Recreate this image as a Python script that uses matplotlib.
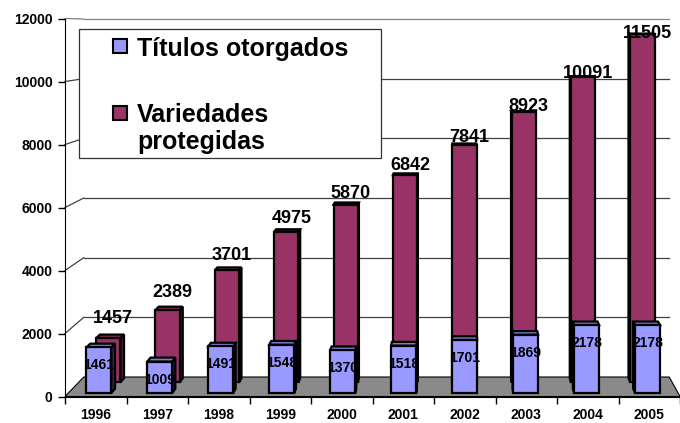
import matplotlib
matplotlib.use("Agg")
import matplotlib.pyplot as plt
from matplotlib.patches import Polygon, Rectangle

# ---------------- data ----------------
years = ["1996", "1997", "1998", "1999", "2000", "2001", "2002", "2003", "2004", "2005"]
titulos = [1461, 1009, 1491, 1548, 1370, 1518, 1701, 1869, 2178, 2178]
variedades = [1457, 2389, 3701, 4975, 5870, 6842, 7841, 8923, 10091, 11505]
y_ticks = [0, 2000, 4000, 6000, 8000, 10000, 12000]
series_names = ["Títulos otorgados", "Variedades\nprotegidas"]

# ---------------- style ----------------
FONT = ["Liberation Sans", "DejaVu Sans"]
plt.rcParams["font.family"] = FONT
plt.rcParams["font.weight"] = "bold"

BLUE, BLUE_SIDE, BLUE_TOP = "#9999FF", "#2e2e5c", "#7c7cd6"
PURP, PURP_SIDE, PURP_TOP = "#993366", "#4a1730", "#7a2952"
FLOOR = "#8a8a8a"
GRID = "#404040"

W, H = 680, 423
fig = plt.figure(figsize=(W / 100, H / 100), dpi=100)
fig.patch.set_facecolor("white")

# front plane of the 3-D box
X0, CW, Y0, YS = 65.0, 62.3, 396.5, 378.0 / 12000
ax = fig.add_axes([X0 / W, (H - Y0) / H, (W - X0) / W, 12000 * YS / H])
ax.set_xlim(0, (W - X0) / CW)
ax.set_ylim(0, 12000)
ax.patch.set_alpha(0)

# perspective: back wall relative to front plane (in data units)
BX, BSX = 0.305, 0.952
BY, BSY = 619.0, 0.947


def proj(k, v, d):
    kb = BX + BSX * k
    vb = BY + BSY * v
    return ((1 - d) * k + d * kb, (1 - d) * v + d * vb)


n = len(years)

# floor
floor = Polygon([proj(0, 0, 0), proj(n, 0, 0), proj(n, 0, 1), proj(0, 0, 1)],
                closed=True, fc=FLOOR, ec="black", lw=0.8, zorder=1, clip_on=False)
ax.add_patch(floor)

# back wall gridlines + side wall connectors
for v in y_ticks[1:]:
    col = "#808080" if v == y_ticks[-1] else GRID
    p0, p1 = proj(0, v, 1), proj(n, v, 1)
    ax.plot([p0[0], p1[0]], [p0[1], p1[1]], color=col, lw=0.9, zorder=0.5, clip_on=False)
    q0 = proj(0, v, 0)
    ax.plot([q0[0], p0[0]], [q0[1], p0[1]], color=col, lw=0.9, zorder=0.5, clip_on=False)


def draw_bar(kc, v, hw, d0, dd, face, side, top, z):
    fl, fr = proj(kc - hw, 0, d0), proj(kc + hw, 0, d0)
    ftl, ftr = proj(kc - hw, v, d0), proj(kc + hw, v, d0)
    bl, br = proj(kc - hw, 0, d0 + dd), proj(kc + hw, 0, d0 + dd)
    btl, btr = proj(kc - hw, v, d0 + dd), proj(kc + hw, v, d0 + dd)
    kw = dict(closed=True, ec="black", lw=1.6, joinstyle="miter", clip_on=False)
    if btl[0] < ftl[0]:
        ax.add_patch(Polygon([fl, ftl, btl, bl], fc=side, zorder=z, **kw))
    if btr[0] > ftr[0]:
        ax.add_patch(Polygon([fr, ftr, btr, br], fc=side, zorder=z, **kw))
    ax.add_patch(Polygon([ftl, ftr, btr, btl], fc=top, zorder=z, **kw))
    ax.add_patch(Polygon([fl, fr, ftr, ftl], fc=face, zorder=z + 0.1, **kw))


HW = 0.205
# back row: Variedades protegidas
for i, v in enumerate(variedades):
    draw_bar(i + 0.5, v, HW, 0.72, 0.22, PURP, PURP_SIDE, PURP_TOP, 3)
    x = proj(i + 0.5, v, 0.72)[0]
    y = proj(i + 0.5, v, 1.87)[1]
    ax.annotate(str(v), (x, y), xytext=(5, 0), textcoords="offset pixels",
                ha="center", va="center", fontsize=13, fontweight="bold",
                zorder=6, annotation_clip=False)

# front row: Títulos otorgados
for i, v in enumerate(titulos):
    draw_bar(i + 0.5, v, HW, 0.18, 0.22, BLUE, BLUE_SIDE, BLUE_TOP, 4)
    x, y = proj(i + 0.5, v, 0.18)
    ax.annotate(str(v), (x, y), xytext=(0, -18), textcoords="offset pixels",
                ha="center", va="center", fontsize=10, fontweight="bold",
                zorder=7, annotation_clip=False)

# axes
for s in ["top", "right"]:
    ax.spines[s].set_visible(False)
ax.spines["left"].set_color("black")
ax.spines["bottom"].set_color("black")
ax.spines["left"].set_zorder(2)
ax.spines["bottom"].set_zorder(2)
ax.set_yticks(y_ticks)
ax.set_yticklabels([str(t) for t in y_ticks], fontsize=10, fontweight="bold")
ax.tick_params(axis="y", length=5, width=1, pad=4, direction="out")
ax.set_xticks(range(n + 1))
ax.set_xticklabels([""] * (n + 1))
ax.tick_params(axis="x", which="major", length=5, width=1, direction="out")
ax.set_xticks([i + 0.5 for i in range(n)], minor=True)
ax.set_xticklabels(years, minor=True, fontsize=10, fontweight="bold")
ax.tick_params(axis="x", which="minor", length=0, pad=8)


# legend box (figure pixel coordinates)
def fx(px):
    return px / W


def fy(py):
    return 1 - py / H


fig.patches.append(Rectangle((fx(79), fy(158)), fx(381) - fx(79), fy(29) - fy(158),
                             transform=fig.transFigure, fc="white", ec="#333333",
                             lw=0.9, zorder=5))
fig.patches.append(Rectangle((fx(113), fy(53)), fx(127) - fx(113), fy(39) - fy(53),
                             transform=fig.transFigure, fc=BLUE, ec="black", lw=1.5, zorder=6))
fig.patches.append(Rectangle((fx(113), fy(120)), fx(127) - fx(113), fy(106) - fy(120),
                             transform=fig.transFigure, fc=PURP, ec="black", lw=1.5, zorder=6))
fig.text(fx(137), fy(56), series_names[0], fontsize=18, fontweight="bold",
         ha="left", va="baseline", zorder=7)
name2 = series_names[1].split("\n")
fig.text(fx(137), fy(122), name2[0], fontsize=18, fontweight="bold",
         ha="left", va="baseline", zorder=7)
fig.text(fx(137), fy(149), name2[1], fontsize=18, fontweight="bold",
         ha="left", va="baseline", zorder=7)

fig.savefig("out.png", dpi=100, facecolor="white")
